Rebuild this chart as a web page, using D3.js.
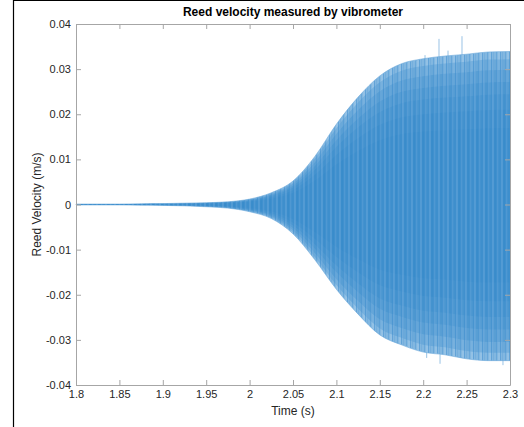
<!DOCTYPE html>
<html>
<head>
<meta charset="utf-8">
<script src="https://cdn.jsdelivr.net/npm/d3@7"></script>
<style>
  body { margin: 0; background: #fff; }
  svg text { font-family: "Liberation Sans", Arial, Helvetica, sans-serif; }
</style>
</head>
<body>
<div id="chart"></div>
<script>
// envelope of the vibrometer signal
var times = [1.80, 1.825, 1.85, 1.875, 1.90, 1.925, 1.95, 1.975, 2.00, 2.025, 2.05,
             2.075, 2.10, 2.125, 2.15, 2.175, 2.20, 2.225, 2.25, 2.275, 2.30];
var upper = [0.0001, 0.0001, 0.0001, 0.00015, 0.0002, 0.0003, 0.0004, 0.0006, 0.0012, 0.0026, 0.0052,
             0.0106, 0.0178, 0.0238, 0.0285, 0.0312, 0.0323, 0.0329, 0.0333, 0.0338, 0.0339];
var lower = [-0.0001, -0.0001, -0.0001, -0.00015, -0.0002, -0.0003, -0.0005, -0.0008, -0.0016, -0.0031, -0.0065,
             -0.0122, -0.0188, -0.0243, -0.0289, -0.0311, -0.0327, -0.0333, -0.0342, -0.0346, -0.0346];
// isolated peaks sticking out of the envelope
var spikeTimes = [2.2021, 2.2182, 2.2286, 2.2447, 2.204, 2.2194, 2.2919];
var spikeValues = [0.0331, 0.0367, 0.0341, 0.0373, -0.0340, -0.0353, -0.0356];

var xTicks = [1.8, 1.85, 1.9, 1.95, 2, 2.05, 2.1, 2.15, 2.2, 2.25, 2.3];
var yTicks = [-0.04, -0.03, -0.02, -0.01, 0, 0.01, 0.02, 0.03, 0.04];

var width = 524, height = 427;
var mLeft = 76, mRight = 510, mTop = 24, mBottom = 385;

var svg = d3.select("#chart").append("svg")
    .attr("width", width)
    .attr("height", height);

// figure window edges
svg.append("line").attr("x1", 13.5).attr("x2", 13.5).attr("y1", 0).attr("y2", height)
    .attr("stroke", "#000").attr("stroke-width", 1.2);
svg.append("line").attr("x1", 13).attr("x2", width).attr("y1", 0.5).attr("y2", 0.5)
    .attr("stroke", "#000").attr("stroke-width", 1.2);

var x = d3.scaleLinear().domain([1.8, 2.3]).range([mLeft, mRight]);
var y = d3.scaleLinear().domain([-0.04, 0.04]).range([mBottom, mTop]);

var data = times.map(function (t, i) { return { t: t, hi: upper[i], lo: lower[i] }; });

// stripes that stand in for the dense oscillation
var defs = svg.append("defs");
function stripes(id, base, list) {
    var p = defs.append("pattern").attr("id", id)
        .attr("patternUnits", "userSpaceOnUse").attr("width", 9).attr("height", 10);
    p.append("rect").attr("width", 9).attr("height", 10).attr("fill", base);
    list.forEach(function (s) {
        p.append("rect").attr("x", s[0]).attr("width", s[1]).attr("height", 10).attr("fill", s[2]);
    });
}
stripes("edge", "#82b7e0", [[1, 1, "#6aa8da"], [3, 2, "#93c1e5"], [5, 1, "#62a3d8"], [7, 1, "#76afdd"]]);
stripes("core", "#3a8ccc", [[0, 1, "#2f86c8"], [2, 1, "#4894d0"], [4, 1, "#3388ca"], [6, 2, "#4d97d2"], [8, 1, "#3187c9"]]);

var area = d3.area()
    .curve(d3.curveMonotoneX)
    .x(function (d) { return x(d.t); })
    .y0(function (d) { return y(d.lo); })
    .y1(function (d) { return y(d.hi); });

var plot = svg.append("g");
var y0 = y(0);

// spikes go underneath, so only the part outside the envelope shows
plot.selectAll("line.spike").data(spikeTimes).enter().append("line")
    .attr("class", "spike")
    .attr("x1", function (d) { return x(d); })
    .attr("x2", function (d) { return x(d); })
    .attr("y1", y0)
    .attr("y2", function (d, i) { return y(spikeValues[i]); })
    .attr("stroke", "#7fb4de").attr("stroke-width", 0.8);

plot.append("path").attr("d", area(data))
    .attr("fill", "url(#edge)")
    .attr("stroke", "#6aa8da").attr("stroke-width", 0.6);

// darker core built from shrinking copies so the edge fades in gradually
[0.95, 0.88, 0.8, 0.72, 0.62, 0.5].forEach(function (k) {
    plot.append("path").attr("d", area(data))
        .attr("fill", "url(#core)")
        .attr("opacity", 0.3)
        .attr("transform", "translate(0," + y0 + ") scale(1," + k + ") translate(0," + (-y0) + ")");
});

// axes, MATLAB style: box with inward ticks
var axisColor = "#a6a6a6";
var xAxis = svg.append("g").attr("transform", "translate(0," + mBottom + ")")
    .call(d3.axisBottom(x).tickValues(xTicks).tickSizeInner(-5).tickSizeOuter(0).tickPadding(5)
        .tickFormat(function (d) { return String(+d.toFixed(2)); }));
var xTop = svg.append("g").attr("transform", "translate(0," + mTop + ")")
    .call(d3.axisTop(x).tickValues(xTicks).tickSizeInner(-5).tickSizeOuter(0).tickFormat(""));
var yAxis = svg.append("g").attr("transform", "translate(" + mLeft + ",0)")
    .call(d3.axisLeft(y).tickValues(yTicks).tickSizeInner(-5).tickSizeOuter(0).tickPadding(5)
        .tickFormat(function (d) { return String(+d.toFixed(2)); }));
var yRight = svg.append("g").attr("transform", "translate(" + mRight + ",0)")
    .call(d3.axisRight(y).tickValues(yTicks).tickSizeInner(-5).tickSizeOuter(0).tickFormat(""));

[xAxis, xTop, yAxis, yRight].forEach(function (g) {
    g.select(".domain").attr("stroke", axisColor);
    g.selectAll(".tick line").attr("stroke", axisColor);
    g.selectAll(".tick text").attr("fill", "#262626")
        .style("font-family", '"Liberation Sans", Arial, sans-serif').style("font-size", "11px");
});

svg.append("text")
    .attr("x", (mLeft + mRight) / 2).attr("y", 16)
    .attr("text-anchor", "middle")
    .style("font-size", "12px").style("font-weight", "bold").attr("fill", "#000")
    .text("Reed velocity measured by vibrometer");

svg.append("text")
    .attr("x", (mLeft + mRight) / 2).attr("y", 415)
    .attr("text-anchor", "middle")
    .style("font-size", "12px").attr("fill", "#262626")
    .text("Time (s)");

svg.append("text")
    .attr("transform", "translate(41," + ((mTop + mBottom) / 2) + ") rotate(-90)")
    .attr("text-anchor", "middle")
    .style("font-size", "12px").attr("fill", "#262626")
    .text("Reed Velocity (m/s)");
</script>
</body>
</html>
